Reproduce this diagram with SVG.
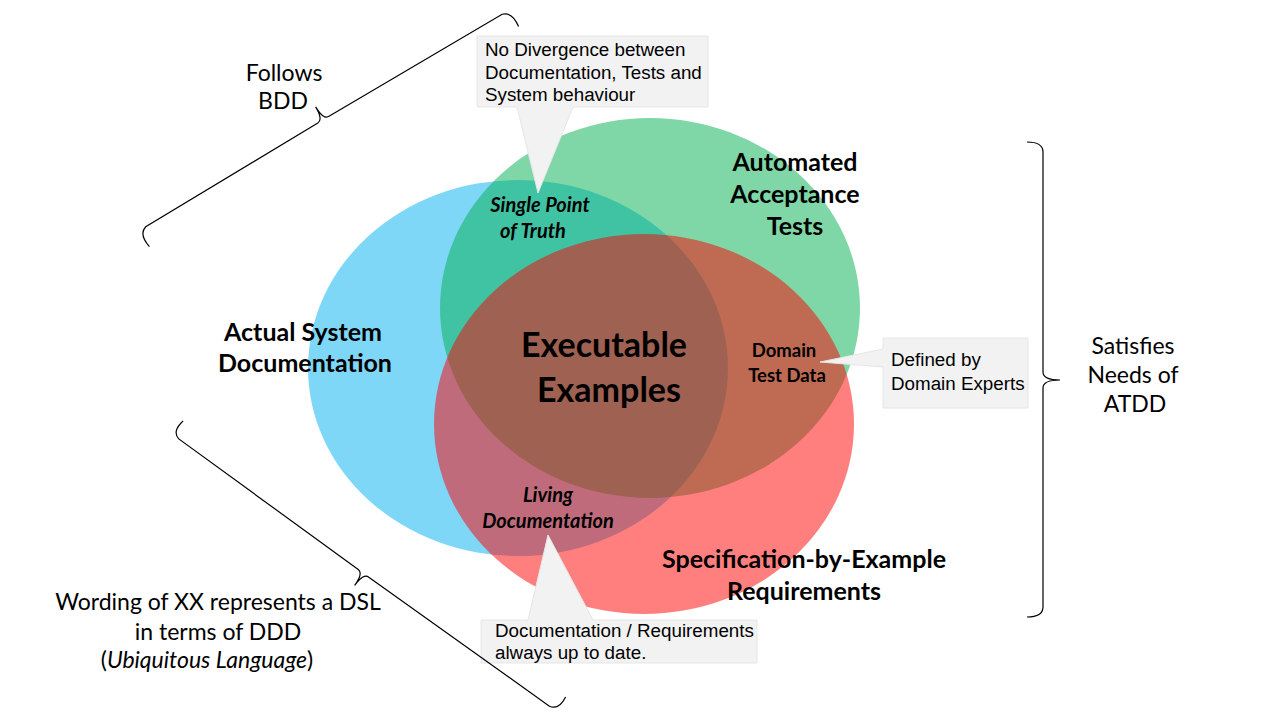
<svg xmlns="http://www.w3.org/2000/svg" width="1280" height="720" viewBox="0 0 1280 720">
<style>
.lbl{font-family:Lato,"Open Sans",sans-serif;font-weight:bold;fill:#000;text-anchor:middle}
.note{font-family:Lato,"Open Sans",sans-serif;font-size:23px;fill:#000;text-anchor:middle}
.co{font-family:"Liberation Sans",Arial,sans-serif;font-size:18.8px;fill:#000}
.brace{fill:none;stroke:#000;stroke-width:1.2}
.callout{fill:#F2F2F2;stroke:#E6E6E6;stroke-width:1}
</style>
<rect width="1280" height="720" fill="#fff"/>
<g id="ellipses">
<ellipse id="blue" cx="518" cy="368" rx="210" ry="188" fill="#00B0F0" fill-opacity="0.5"/>
<ellipse id="green" cx="650" cy="308" rx="210" ry="190" fill="#00B050" fill-opacity="0.5"/>
<ellipse id="red" cx="644" cy="424" rx="210" ry="190" fill="#FF0000" fill-opacity="0.5"/>
</g>
<g id="labels">
<text class="lbl" font-size="25" x="303" y="341">Actual System</text>
<text class="lbl" font-size="25" x="305" y="372">Documentation</text>
<text class="lbl" font-size="25" x="795" y="171">Automated</text>
<text class="lbl" font-size="25" x="795" y="203">Acceptance</text>
<text class="lbl" font-size="25" x="795" y="235">Tests</text>
<text class="lbl" font-size="25" x="804" y="568">Specification-by-Example</text>
<text class="lbl" font-size="25" x="804" y="600">Requirements</text>
<text class="lbl" font-size="34" x="604" y="357">Executable</text>
<text class="lbl" font-size="34" x="609" y="402">Examples</text>
<text class="lbl" font-size="20" font-style="italic" x="540" y="212">Single Point</text>
<text class="lbl" font-size="20" font-style="italic" x="533" y="238">of Truth</text>
<text class="lbl" font-size="18.5" x="784" y="357">Domain</text>
<text class="lbl" font-size="18.5" x="787" y="382">Test Data</text>
<text class="lbl" font-size="20" font-style="italic" x="548" y="502">Living</text>
<text class="lbl" font-size="20" font-style="italic" x="548" y="528">Documentation</text>
</g>
<g id="callout-divergence">
<path class="callout" d="M477,36 H708 V107 H573 L538,193 L517,107 H477 Z"/>
<text class="co" x="485" y="56">No Divergence between</text>
<text class="co" x="485" y="79">Documentation, Tests and</text>
<text class="co" x="485" y="101">System behaviour</text>
</g>
<g id="callout-domain">
<path class="callout" d="M883,338 H1028 V408 H883 V367 L820,362 L883,349 Z"/>
<text class="co" x="891" y="366">Defined by</text>
<text class="co" x="891" y="390">Domain Experts</text>
</g>
<g id="callout-living">
<path class="callout" d="M481,620 H528 L548,535 L593,620 H757 V663 H481 Z"/>
<text class="co" x="495" y="637">Documentation / Requirements</text>
<text class="co" x="495" y="659">always up to date.</text>
</g>
<g id="connectors">
<path class="brace" transform="translate(138.3,230) rotate(-30.8)" d="M1,20 Q-2,4 8,1 L209,0 Q215.4,0 215.4,-15 Q215.4,0 222,0 L423,1 Q433,4 430.8,20"/>
<path class="brace" transform="translate(171.7,435) rotate(35.8)" d="M1,-18 Q-2,-3 8,-1 L230,0 Q236.4,0 236.4,15 Q236.4,0 243,0 L465,-1 Q475,-3 472.7,-18"/>
<path class="brace" d="M1027,142 Q1043,142 1043,152 L1043,372 Q1043,380 1060,380 Q1043,380 1043,388 L1043,607 Q1043,617 1027,617"/>
</g>
<g id="notes">
<text class="note" x="284" y="81">Follows</text>
<text class="note" x="283" y="109">BDD</text>
<text class="note" x="1133" y="354">Satisfies</text>
<text class="note" x="1133" y="383">Needs of</text>
<text class="note" x="1135" y="412">ATDD</text>
<text class="note" x="218" y="610">Wording of XX represents a DSL</text>
<text class="note" x="218" y="640">in terms of DDD</text>
<text class="note" x="207" y="668">(<tspan font-style="italic">Ubiquitous Language</tspan>)</text>
</g>
</svg>
